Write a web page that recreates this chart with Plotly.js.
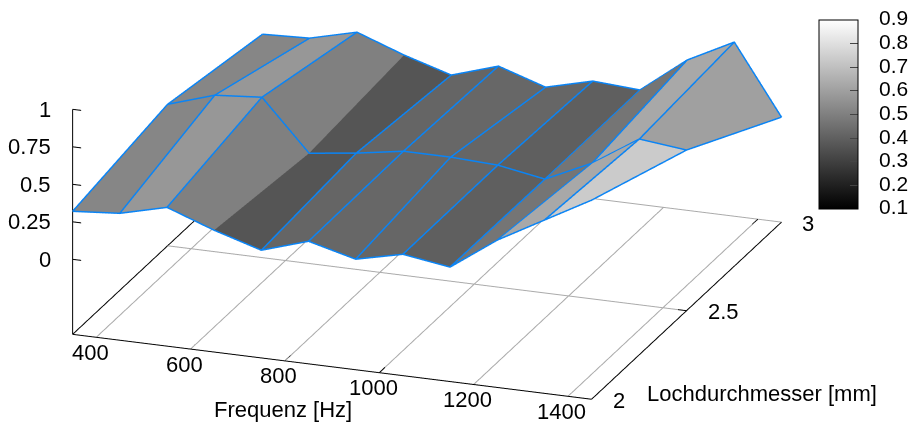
<!DOCTYPE html>
<html><head><meta charset="utf-8">
<script src="https://cdn.plot.ly/plotly-3.0.1.min.js"></script>
<style>html,body{margin:0;padding:0;background:#fff}</style></head>
<body><div id="chart" style="width:910px;height:423px"></div>
<script>
const freq=[350,450,550,650,750,850,950,1050,1150,1250,1350,1450];
const diam=[2,2.5,3];
const zFront=[.32,.346,.425,.312,.218,.317,.237,.309,.263,.482,.655,.827];
const zMid=[.443,.543,.569,.235,.275,.327,.327,.313,.259,.405,.605,.571];
const zBack=[.32,.333,.412,.299,.205,.304,.203,.283,.263,.502,.661,.2];
const colFront=[.52,.574,.502,.367,.417,.423,.42,.398,.467,.627,.737];
const colBack=[.52,.574,.502,.367,.417,.423,.42,.398,.467,.627,.602];
const freqWithoutWire=[650];
const freqTicks=[400,600,800,1000,1200,1400];
const diamTicks=[2,2.5,3];
const zTicks=[0,.25,.5,.75,1];
const zLabels=['0','0.25','0.5','0.75','1'];
const cbTicks=[.1,.2,.3,.4,.5,.6,.7,.8,.9];
const cbLabels=['0.1','0.2','0.3','0.4','0.5','0.6','0.7','0.8','0.9'];
const xR=[350,1450],zBase=-0.5;
const F='"Liberation Sans",Arial,sans-serif';
// the scene box is a little larger than the drawn frame: marks lying exactly on the box are clipped at random
const boxX=[340,1460],boxY=[1.98,3.02],boxZ=[-.52,1.02];
const aspect={x:2.6605,y:2.7154,z:1.1622};
const dir=[.3233,-.8826,.3416];const R=4;const c=[.1495,-.024,-.2034];
const rows=[zFront,zMid,zBack];
let vx=[],vy=[],vz=[],I=[],J=[],K=[],C=[];
const n=freq.length;
rows.forEach((r,j)=>r.forEach((z,i)=>{vx.push(freq[i]);vy.push(diam[j]);vz.push(z);}));
[colFront,colBack].forEach((cr,j)=>cr.forEach((v,i)=>{
 const a=j*n+i,b=a+1,d=a+n,e=d+1;
 I.push(a,a);J.push(b,e);K.push(e,d);C.push(v,v);
}));
// wire lines are nudged along the line of sight so the mesh does not hide them; the picture position is unchanged
const eps=.02;
const nudge=[eps*dir[0]*(boxX[1]-boxX[0])/aspect.x,eps*dir[1]*(boxY[1]-boxY[0])/aspect.y,eps*dir[2]*(boxZ[1]-boxZ[0])/aspect.z];
const sc3=(x,y,z,col,w)=>({type:'scatter3d',mode:'lines',hoverinfo:'skip',showlegend:false,x,y,z,line:{color:col,width:w}});
const wire=(pts)=>sc3(pts.map(p=>p[0]+nudge[0]),pts.map(p=>p[1]+nudge[1]),pts.map(p=>p[2]+nudge[2]),'#0a84f5',3);
const wires=[
 ...rows.map((r,j)=>wire(r.map((z,i)=>[freq[i],diam[j],z]))),
 ...freq.map((f,i)=>freqWithoutWire.includes(f)?null:wire(rows.map((r,j)=>[f,diam[j],r[i]]))).filter(Boolean)
];
const line=(s,col,w)=>sc3([s[0],s[3]],[s[1],s[4]],[s[2],s[5]],col,w);
const gridSegs=[...freqTicks.map(f=>[f,2,zBase,f,3,zBase]),[xR[0],2.5,zBase,xR[1],2.5,zBase],[xR[0],3,zBase,xR[1],3,zBase]];
const axisSegs=[[xR[0],2,zBase,xR[1],2,zBase],[xR[1],2,zBase,xR[1],3,zBase],[xR[0],2,zBase,xR[0],3,zBase],[xR[0],2,zBase,xR[0],2,1],
 ...zTicks.map(t=>[xR[0],2,t,xR[0]+18,2,t]),
 ...freqTicks.flatMap(f=>[[f,2,zBase,f,2.03,zBase],[f,3,zBase,f,2.97,zBase]]),
 [xR[0],2.5,zBase,xR[0]+18,2.5,zBase],[xR[1],2.5,zBase,xR[1]-18,2.5,zBase]];
const data=[
 ...gridSegs.map(s=>line(s,'#aaaaaa',2)),...axisSegs.map(s=>line(s,'#000000',2)),
 {type:'mesh3d',x:vx,y:vy,z:vz,i:I,j:J,k:K,intensity:C,intensitymode:'cell',cmin:.1,cmax:.9,
  colorscale:[[0,'#000'],[1,'#fff']],flatshading:true,lighting:{ambient:1,diffuse:0,specular:0,roughness:1,fresnel:0},
  hoverinfo:'skip',
  colorbar:{x:819/910,xanchor:'left',y:1-209/423,yanchor:'bottom',len:189,lenmode:'pixels',thickness:39,thicknessmode:'pixels',
   outlinecolor:'#000',outlinewidth:1,tickmode:'array',tickvals:cbTicks,showticklabels:false,
   ticks:'inside',ticklen:8,xpad:0,ypad:0,borderwidth:0}},
 ...wires
];
const txt=(x,y,z,t,dx,dy,anchor)=>({x,y,z,text:t,showarrow:false,xshift:dx,yshift:dy,xanchor:anchor||'center',yanchor:'middle',font:{family:F,size:22,color:'#000'}});
const anns=[
 ...freqTicks.map(f=>txt(f,2,zBase,String(f),-6,-15)),
 ...diamTicks.map(d=>txt(xR[1],d,zBase,String(d),19,-1,'left')),
 ...zTicks.map((t,i)=>txt(xR[0],2,t,zLabels[i],-20,0,'right')),
 txt(800,2,zBase,'Frequenz [Hz]',-2,-49),
 txt(xR[1],2,zBase,'Lochdurchmesser [mm]',53,6,'left')
];
const cbY=v=>1-(209-(v-.1)/.8*189)/423;
const paperAnn=cbTicks.map((v,i)=>({xref:'paper',yref:'paper',x:877/910,y:cbY(v),text:cbLabels[i],showarrow:false,xanchor:'left',yanchor:'middle',yshift:2,font:{family:F,size:21,color:'#000'}}));
const shapes=cbTicks.slice(1,-1).map(v=>({type:'line',xref:'paper',yref:'paper',x0:819/910,x1:827/910,y0:cbY(v),y1:cbY(v),line:{color:'#000',width:1}}));
const noax={visible:false,showspikes:false};
Plotly.newPlot('chart',data,{width:910,height:423,margin:{l:0,r:0,t:0,b:0},paper_bgcolor:'#fff',showlegend:false,annotations:paperAnn,shapes,
 scene:{domain:{x:[0,1],y:[0,1]},bgcolor:'#fff',aspectmode:'manual',aspectratio:aspect,
  xaxis:Object.assign({range:boxX},noax),yaxis:Object.assign({range:boxY},noax),zaxis:Object.assign({range:boxZ},noax),
  camera:{projection:{type:'orthographic'},up:{x:0,y:0,z:1},center:{x:c[0],y:c[1],z:c[2]},eye:{x:c[0]+dir[0]*R,y:c[1]+dir[1]*R,z:c[2]+dir[2]*R}},
  annotations:anns}
},{displayModeBar:false,staticPlot:false});
</script></body></html>
